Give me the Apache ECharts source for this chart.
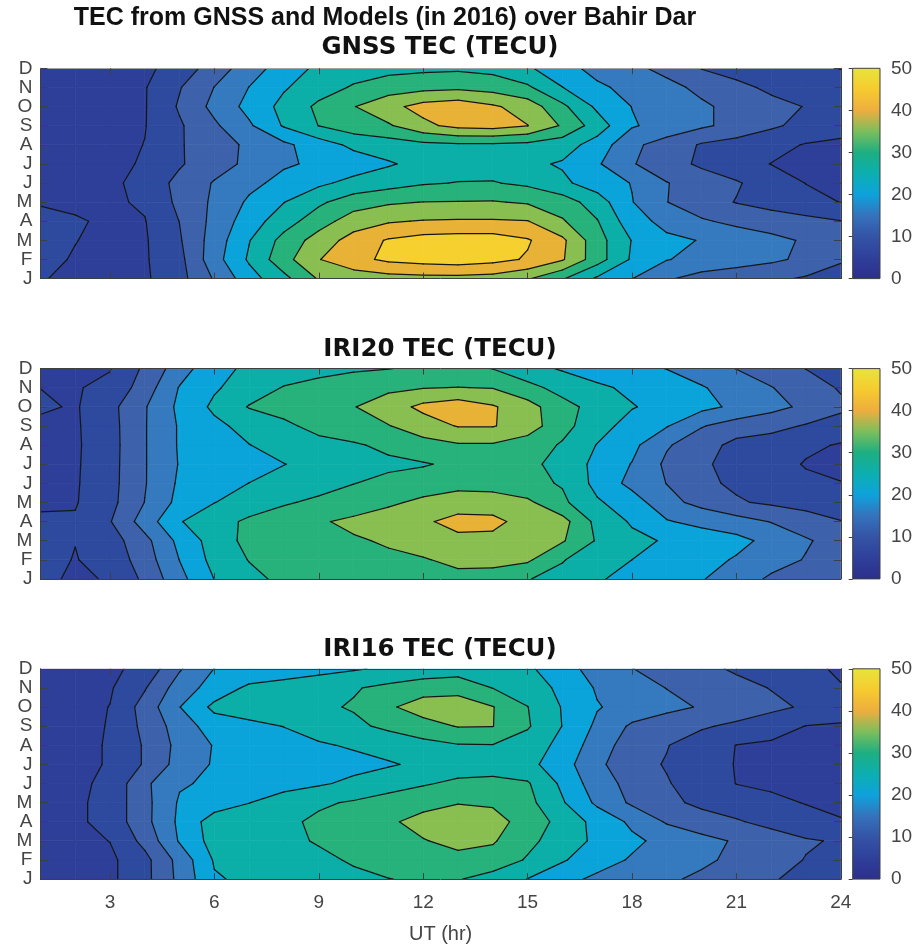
<!DOCTYPE html>
<html>
<head>
<meta charset="utf-8">
<title>TEC from GNSS and Models (in 2016) over Bahir Dar</title>
<script src="https://cdn.jsdelivr.net/npm/echarts@6/dist/echarts.min.js"></script>
<style>
  html, body { margin: 0; padding: 0; background: #ffffff; }
  #chart { width: 923px; height: 947px; }
</style>
</head>
<body>
<div id="chart"></div>
<script>
// ---- data -------------------------------------------------------------
// UT hours (columns) and months (rows, Jan at the bottom)
const hours = [1, 2, 3, 4, 5, 6, 7, 8, 9, 10, 11, 12, 13, 14, 15, 16, 17, 18, 19, 20, 21, 22, 23, 24];
const monthLabels = ['J', 'F', 'M', 'A', 'M', 'J', 'J', 'A', 'S', 'O', 'N', 'D'];
const hourTicks = [3, 6, 9, 12, 15, 18, 21, 24];
const contourLevels = [0, 5, 10, 15, 20, 25, 30, 35, 40, 45, 50];
const colorbarTicks = [0, 10, 20, 30, 40, 50];

const mainTitle = 'TEC from GNSS and Models (in 2016) over Bahir Dar';
const panelTitles = ['GNSS TEC (TECU)', 'IRI20 TEC (TECU)', 'IRI16 TEC (TECU)'];
const xAxisName = 'UT (hr)';

// TEC in TECU, one row per month (Jan..Dec), one value per UT hour (1..24)
const gnssTec = [
  [5.3, 4.0, 3.5, 4.3, 8.3, 15.5, 22.9, 28.6, 35.5, 37, 38, 38.5, 38.5, 38, 35.5, 30.5, 24.2, 20.1, 15.6, 13, 12, 11, 9.4, 8],
  [6.0, 4.7, 3.8, 4.5, 8.6, 18.0, 25.7, 33.2, 39.8, 43.5, 46, 47, 47.5, 46.5, 44.5, 40.5, 32.2, 24.3, 20.2, 18.6, 17.2, 15.9, 14.0, 10.5],
  [6.5, 5.1, 4.0, 4.5, 9.5, 17.3, 24.8, 31.7, 37.2, 42, 45.5, 47, 47.5, 47.5, 45.5, 41, 32, 24.8, 21, 19.8, 18, 16.2, 14.5, 12],
  [6.5, 5.5, 4.2, 4.8, 10.1, 16.5, 22.6, 27.8, 32.8, 37.5, 39.5, 40.3, 40.5, 40.5, 40.2, 35.5, 30.3, 22.0, 18.5, 15.6, 13.8, 12.8, 11.5, 10.2],
  [4.6, 4.0, 4.3, 5.6, 11.2, 15.9, 20.8, 24.9, 29.1, 32.7, 34.3, 35.1, 35.2, 35.3, 34.5, 32.5, 27.5, 20.2, 15.1, 12, 9.8, 8, 6.5, 4.9],
  [3, 3, 3.7, 7.1, 11.3, 15.4, 18.7, 21.5, 24, 26.5, 28, 29.5, 30.2, 30.3, 29, 26, 22.5, 19.8, 15.2, 12.5, 10.5, 7.5, 4.9, 4],
  [2.5, 2.5, 3.0, 5.8, 9.5, 12.9, 16.1, 19.4, 20.8, 22.3, 24.5, 26.5, 27.5, 27.5, 26, 24.5, 20.6, 15.4, 11.9, 9.2, 6.8, 4.9, 4.0, 3.5],
  [3, 3, 3.5, 5.1, 9.6, 12.6, 16, 19, 22.5, 26.2, 27.5, 28.7, 29.2, 29.3, 28.7, 27.2, 23, 16, 13, 9.5, 8, 6.5, 4.7, 4],
  [3, 3, 3.5, 4.8, 9.4, 14.2, 19.3, 25.5, 30.1, 32.8, 34.4, 38.8, 41.5, 42, 40.1, 34.4, 27.5, 20.5, 18, 15.8, 13.5, 10.8, 8.5, 7],
  [3, 3, 3.5, 4.7, 10.6, 16.4, 21.5, 26.5, 31, 34.8, 38.5, 41.8, 43, 40.7, 37.8, 31.1, 24.0, 19.9, 17.5, 15.8, 13.5, 11.5, 9.8, 8],
  [3, 3, 3.5, 4.7, 9.7, 15.1, 20.1, 24.5, 27.8, 30.5, 32.5, 33.5, 34, 33, 30.8, 25.1, 20.8, 18.7, 16.5, 13.8, 11.3, 9, 7.5, 6.5],
  [3, 3, 3.5, 4, 7, 12.5, 17.5, 22.5, 26, 27.8, 28.5, 29, 29.2, 28.5, 25.7, 21.7, 18.5, 16.2, 13.5, 9.8, 8, 7, 6, 4.9]
];

const iri20Tec = [
  [6.5, 4, 5.5, 11, 18.5, 25.1, 28.6, 31.2, 32, 32.5, 33, 33.3, 33.5, 32.5, 30.2, 28.5, 25.5, 23.5, 22, 20.3, 17.5, 14.2, 12.5, 11],
  [6.5, 4.8, 6.7, 12.5, 20.1, 26.6, 30.2, 31.3, 32.2, 33.2, 34.2, 34.6, 36.3, 36.8, 35.8, 30.3, 27.2, 25, 23.5, 21.8, 19.5, 17, 14.7, 12.5],
  [6.5, 5.1, 7.7, 13.5, 21.4, 27.2, 31.5, 32.5, 33.5, 34.5, 35.5, 37.5, 39, 39, 37.5, 35.5, 29.5, 26.3, 24.5, 23, 21.5, 18.5, 15.5, 13],
  [5.5, 5.5, 9.7, 17.3, 24.7, 28, 30.9, 32.5, 34.5, 36, 37.5, 39.4, 41.3, 41, 38.5, 36.8, 28.5, 24.4, 20.4, 18.5, 17, 14.8, 12.5, 10.2],
  [4.5, 4.65, 8.5, 15.1, 21.5, 24.9, 27.3, 29.5, 30.9, 32.4, 34.2, 36, 38, 38, 36, 31, 25.6, 22.5, 16.5, 13.5, 10.5, 9.2, 8, 7],
  [4, 4.5, 8.3, 14.7, 20.8, 23.3, 25.05, 26.7, 28.3, 29.9, 31.3, 32.5, 33, 32.5, 31.3, 29.6, 23.5, 18.5, 14.9, 11, 9.2, 7.7, 6.2, 5.1],
  [3.8, 4.4, 8.2, 14.7, 20.3, 21.8, 23.4, 24.9, 26.5, 28, 29, 29.6, 31, 31.3, 31.0, 28.6, 23.5, 19.8, 14, 10.5, 8.9, 7.2, 4.6, 4.2],
  [3.7, 4.3, 8.1, 14.7, 20.5, 22.8, 24.9, 27, 28.5, 29.4, 31.1, 33.3, 34.5, 34.5, 32.5, 29.5, 24.8, 21.3, 15.5, 12.2, 8.5, 7.6, 6, 4.6],
  [3.8, 4.4, 8.2, 14.7, 20.5, 23.8, 26.7, 29, 31.5, 33.3, 34.8, 37.5, 40.3, 40.3, 37.5, 31.6, 27, 23, 20.3, 15.3, 12.8, 11.5, 9.6, 8],
  [5.8, 4.5, 8.5, 14.6, 21.1, 26, 30.3, 31.8, 33.3, 34.8, 37.5, 41.3, 43, 40.5, 37, 31.6, 28.3, 25.3, 23.3, 21.4, 19, 16.5, 14, 11],
  [4.95, 4.7, 6.0, 12.5, 20.3, 24.4, 27.4, 30.3, 31.8, 33, 34, 34.8, 35.1, 34.8, 31.5, 28.3, 25.9, 24, 22.5, 20.4, 17.8, 15.2, 12.5, 9.5],
  [4, 4.3, 4.8, 10.9, 17.7, 23.5, 25.9, 27.1, 28.3, 29.3, 29.9, 30.7, 31.2, 29.9, 26.8, 24.5, 22.5, 21.3, 19.9, 17.5, 14.9, 12.5, 9.9, 8.5]
];

const iri16Tec = [
  [3, 3, 4, 8.5, 16.3, 24.5, 26, 27, 28, 29, 29.9, 30.6, 30.3, 28, 24.9, 21.5, 19, 17.5, 15.8, 14, 12, 10.3, 9, 8],
  [3, 3, 4, 8.5, 16.7, 25.5, 26.5, 27.8, 29, 30.5, 32, 33.5, 34, 33, 29.5, 25.5, 22, 19.5, 17.5, 16, 13.8, 11.8, 9.8, 9],
  [3, 3.5, 5.1, 11.5, 20.5, 27, 27.8, 28.9, 30.4, 31.7, 33.3, 34.8, 36, 35.5, 31.3, 27.5, 24, 21, 18.5, 16.5, 14.5, 12.5, 10.5, 9.5],
  [3.5, 4, 6.8, 13.5, 21, 27.5, 28, 29, 30.9, 32.7, 34.4, 36.3, 37.3, 36.4, 33.5, 28, 23.5, 19, 14.5, 12.3, 10.5, 8.5, 6.8, 5.3],
  [3.5, 4, 6.8, 13.5, 20.6, 22.4, 24.9, 27.3, 29.3, 30.5, 32, 33.7, 34.8, 34.5, 31.5, 25.5, 19, 14.2, 11.3, 8.8, 7.5, 6, 4.8, 4],
  [3.3, 3.8, 6.3, 14, 19.5, 20.8, 22, 23.2, 24.4, 26, 28, 29.5, 31, 31.2, 30.5, 24.0, 17.2, 13.5, 10.3, 8, 4.9, 4.2, 3.8, 3.5],
  [3, 3.3, 5.5, 10.5, 17, 20.5, 21.2, 22, 22.8, 23.6, 24.5, 26, 27.5, 28, 26.5, 22, 16.2, 11.5, 9.7, 7, 4.8, 4, 3.6, 3.3],
  [3, 3.3, 5.5, 10.5, 16.5, 20.3, 21.8, 23.3, 24.5, 25.5, 27, 28.5, 29.7, 29.8, 27.8, 23.5, 17.5, 12.5, 10.2, 7.5, 4.9, 4.3, 4, 3.7],
  [3, 3.3, 5.3, 11.3, 17.3, 22.5, 24, 25.1, 27, 29, 31, 33, 35.3, 35.1, 30.5, 24.9, 19, 14.2, 12.2, 10.6, 9, 7, 4.9, 4.5],
  [3, 3.5, 5.1, 12, 19.9, 26.2, 27, 28, 29.2, 30.4, 34.2, 37.5, 38, 35.2, 30.1, 24.7, 20.3, 18.3, 16.3, 14.6, 13, 11.2, 9.3, 7.5],
  [3, 3.5, 4.5, 9.6, 17.5, 22, 26, 27, 28.5, 29.6, 31.2, 32.7, 33, 29.9, 27.5, 23.9, 19.5, 17.1, 14.9, 13.2, 11.6, 9.8, 7, 5.2],
  [3, 3.5, 4, 6.5, 14.5, 20.1, 21.3, 22.4, 23.3, 24.5, 25.8, 27, 27.8, 27.5, 26, 21.5, 18.5, 15.1, 13.2, 11.3, 9.3, 7.5, 5.8, 4.5]
];

// ---- styling ----------------------------------------------------------
const FONT = "'Liberation Sans', Arial, Helvetica, sans-serif";
const PANEL_TITLE_FONT = "'DejaVu Sans', 'Liberation Sans', Arial, sans-serif";
const AXIS_COLOR = '#3f3f3f';
const LABEL_COLOR = '#454545';
// fill colour of each band between consecutive contour levels
const bandColors = ['#2E3F99', '#2D4A9E', '#3D62AB', '#357ABE', '#0AA4DB',
                    '#0BAFA8', '#26B27A', '#89BF50', '#E8B236', '#F5D02E'];
// continuous colour ramp of the colour bar (0 .. 50 TECU)
const colorRamp = [
  [0.00, '#2C2F8C'], [0.10, '#2F409A'], [0.20, '#3454A6'], [0.30, '#3573BC'],
  [0.40, '#0EA2DC'], [0.50, '#0CAFB0'], [0.60, '#1DAF82'], [0.70, '#7CBE5C'],
  [0.80, '#EDAE3E'], [0.90, '#F6CB30'], [1.00, '#E8E43C']
];

const PLOT_LEFT = 40.4, PLOT_W = 800.4, PANEL_H = 210.3;
const PANEL_TOPS = [68.3, 368.6, 668.8];
const CB_LEFT = 852.7, CB_W = 27.3;

// ---- contour geometry -------------------------------------------------
function crossPoint(a, b, level, tag) {
  const t = (level - a.v) / (b.v - a.v);
  return { x: a.x + t * (b.x - a.x), y: a.y + t * (b.y - a.y), v: level, tag: tag };
}
// Sutherland-Hodgman clip of a polygon against v >= level (or v <= level)
function clipPoly(pts, level, keepAbove) {
  const out = [];
  const n = pts.length;
  if (n === 0) return out;
  const inside = p => keepAbove ? p.v >= level : p.v <= level;
  for (let i = 0; i < n; i++) {
    const cur = pts[i], prev = pts[(i + n - 1) % n];
    const ci = inside(cur), pi = inside(prev);
    if (ci) {
      if (!pi) out.push(crossPoint(prev, cur, level, 'in'));
      out.push({ x: cur.x, y: cur.y, v: cur.v });
    } else if (pi) {
      out.push(crossPoint(prev, cur, level, 'out'));
    }
  }
  return out;
}
function cellQuad(api) {
  const x0 = api.value(0), y0 = api.value(1), x1 = api.value(2), y1 = api.value(3);
  return [
    { x: x0, y: y0, v: api.value(4) },
    { x: x1, y: y0, v: api.value(5) },
    { x: x1, y: y1, v: api.value(6) },
    { x: x0, y: y1, v: api.value(7) }
  ];
}
// one item per grid cell: [x0, y0, x1, y1, v00, v10, v11, v01]
function buildCells(grid) {
  const cells = [];
  for (let j = 0; j < grid.length - 1; j++) {
    for (let i = 0; i < hours.length - 1; i++) {
      cells.push([hours[i], j + 1, hours[i + 1], j + 2,
                  grid[j][i], grid[j][i + 1], grid[j + 1][i + 1], grid[j + 1][i]]);
    }
  }
  return cells;
}

function renderBands(params, api) {
  const quad = cellQuad(api);
  const children = [];
  const nb = contourLevels.length - 1;
  for (let k = 0; k < nb; k++) {
    const lo = k === 0 ? -1e9 : contourLevels[k];
    const hi = k === nb - 1 ? 1e9 : contourLevels[k + 1];
    const poly = clipPoly(clipPoly(quad, lo, true), hi, false);
    if (poly.length < 3) continue;
    children.push({
      type: 'polygon',
      shape: { points: poly.map(p => api.coord([p.x, p.y])) },
      style: { fill: bandColors[k], stroke: bandColors[k], lineWidth: 0.7 }
    });
  }
  return { type: 'group', children: children };
}

function renderContours(params, api) {
  const quad = cellQuad(api);
  const children = [];
  for (let k = 1; k < contourLevels.length - 1; k++) {
    const poly = clipPoly(quad, contourLevels[k], true);
    const n = poly.length;
    for (let i = 0; i < n; i++) {
      const p = poly[i], q = poly[(i + 1) % n];
      if (p.tag === 'out' && q.tag === 'in') {
        const a = api.coord([p.x, p.y]), b = api.coord([q.x, q.y]);
        children.push({
          type: 'line',
          shape: { x1: a[0], y1: a[1], x2: b[0], y2: b[1] },
          style: { stroke: '#161616', lineWidth: 1.25, lineCap: 'round' }
        });
      }
    }
  }
  return { type: 'group', children: children };
}

function renderColorbar(params, api) {
  const p0 = api.coord([api.value(0), api.value(1)]);
  const p1 = api.coord([api.value(2), api.value(3)]);
  const x = Math.min(p0[0], p1[0]), y = Math.min(p0[1], p1[1]);
  const w = Math.abs(p1[0] - p0[0]), h = Math.abs(p1[1] - p0[1]);
  return {
    type: 'group',
    children: [
      {
        type: 'rect',
        shape: { x: x, y: y, width: w, height: h },
        style: {
          fill: new echarts.graphic.LinearGradient(0, 1, 0, 0,
            colorRamp.map(s => ({ offset: s[0], color: s[1] })))
        }
      },
      {
        type: 'rect',
        shape: { x: x, y: y, width: w, height: h },
        style: { fill: 'none', stroke: AXIS_COLOR, lineWidth: 1 }
      }
    ]
  };
}

// ---- chart options ----------------------------------------------------
const panels = [gnssTec, iri20Tec, iri16Tec];
const grids = [], xAxes = [], yAxes = [], series = [];

panels.forEach((grid, p) => {
  grids.push({ left: PLOT_LEFT, top: PANEL_TOPS[p], width: PLOT_W, height: PANEL_H });
});
panels.forEach((grid, p) => {
  grids.push({ left: CB_LEFT, top: PANEL_TOPS[p], width: CB_W, height: PANEL_H });
});

const tickFont = { fontFamily: FONT, fontSize: 19, color: LABEL_COLOR };

panels.forEach((grid, p) => {
  const isLast = p === panels.length - 1;
  // bottom and top hour axes
  xAxes.push({
    gridIndex: p, type: 'value', position: 'bottom', z: 10,
    min: hours[0], max: hours[hours.length - 1],
    axisLine: { show: true, onZero: false, lineStyle: { color: AXIS_COLOR, width: 1 } },
    axisTick: { show: true, inside: true, length: 6, customValues: hourTicks,
                lineStyle: { color: AXIS_COLOR, width: 1 } },
    axisLabel: Object.assign({ show: isLast, customValues: hourTicks, margin: 14 }, tickFont),
    splitLine: { show: false },
    name: isLast ? xAxisName : '', nameLocation: 'middle', nameGap: 45,
    nameTextStyle: { fontFamily: FONT, fontSize: 20, color: LABEL_COLOR }
  });
  xAxes.push({
    gridIndex: p, type: 'value', position: 'top', z: 10,
    min: hours[0], max: hours[hours.length - 1],
    axisLine: { show: true, onZero: false,
                lineStyle: { color: p === 0 ? '#a4a4a4' : AXIS_COLOR, width: 1 } },
    axisTick: { show: true, inside: true, length: 6, customValues: hourTicks,
                lineStyle: { color: AXIS_COLOR, width: 1 } },
    axisLabel: { show: false },
    splitLine: { show: false }
  });
  // left and right month axes
  yAxes.push({
    gridIndex: p, type: 'value', position: 'left', z: 10,
    min: 1, max: monthLabels.length, interval: 1,
    axisLine: { show: true, onZero: false, lineStyle: { color: AXIS_COLOR, width: 1 } },
    axisTick: { show: true, inside: true, length: 7, lineStyle: { color: AXIS_COLOR, width: 1 } },
    axisLabel: Object.assign({ margin: 8, formatter: v => monthLabels[Math.round(v) - 1] || '' }, tickFont),
    splitLine: { show: false }
  });
  yAxes.push({
    gridIndex: p, type: 'value', position: 'right', z: 10,
    min: 1, max: monthLabels.length, interval: 1,
    axisLine: { show: true, onZero: false, lineStyle: { color: AXIS_COLOR, width: 1 } },
    axisTick: { show: true, inside: true, length: 7, lineStyle: { color: AXIS_COLOR, width: 1 } },
    axisLabel: { show: false },
    splitLine: { show: false }
  });

  const cells = buildCells(grid);
  series.push({
    type: 'custom', name: panelTitles[p] + ' fill',
    xAxisIndex: 2 * p, yAxisIndex: 2 * p,
    data: cells, renderItem: renderBands, clip: true, z: 2, silent: true,
    encode: { x: [0, 2], y: [1, 3] }
  });
  series.push({
    type: 'custom', name: panelTitles[p] + ' contours',
    xAxisIndex: 2 * p, yAxisIndex: 2 * p,
    data: cells, renderItem: renderContours, clip: true, z: 3, silent: true,
    encode: { x: [0, 2], y: [1, 3] }
  });
});

// colour bars
panels.forEach((grid, p) => {
  xAxes.push({ gridIndex: 3 + p, type: 'value', min: 0, max: 1, show: false });
  yAxes.push({
    gridIndex: 3 + p, type: 'value', position: 'right', z: 10,
    min: colorbarTicks[0], max: colorbarTicks[colorbarTicks.length - 1], interval: 10,
    axisLine: { show: false },
    axisTick: { show: true, inside: true, length: 4, lineStyle: { color: AXIS_COLOR, width: 1 } },
    axisLabel: Object.assign({ margin: 11 }, tickFont),
    splitLine: { show: false }
  });
  series.push({
    type: 'custom', name: 'colour bar ' + (p + 1),
    xAxisIndex: 6 + p, yAxisIndex: 6 + p,
    data: [[0, contourLevels[0], 1, contourLevels[contourLevels.length - 1]]],
    renderItem: renderColorbar, z: 2, silent: true,
    encode: { x: [0, 2], y: [1, 3] }
  });
});

// titles
const titleItems = [
  { text: mainTitle, x: 385, y: 18, font: FONT, size: 25 },
  { text: panelTitles[0], x: 440, y: 48, font: PANEL_TITLE_FONT, size: 24.5 },
  { text: panelTitles[1], x: 440, y: 350, font: PANEL_TITLE_FONT, size: 24.5 },
  { text: panelTitles[2], x: 440, y: 650, font: PANEL_TITLE_FONT, size: 24.5 }
];
const graphics = titleItems.map(t => ({
  type: 'text', x: t.x, y: t.y, silent: true,
  style: {
    text: t.text, align: 'center', verticalAlign: 'middle',
    textAlign: 'center', textVerticalAlign: 'middle',
    fontFamily: t.font, fontSize: t.size, fontWeight: 'bold', fill: '#111111'
  }
}));

const chart = echarts.init(document.getElementById('chart'), null, { renderer: 'canvas' });
chart.setOption({
  animation: false,
  backgroundColor: '#ffffff',
  grid: grids,
  xAxis: xAxes,
  yAxis: yAxes,
  series: series,
  graphic: graphics
});
</script>
</body>
</html>
